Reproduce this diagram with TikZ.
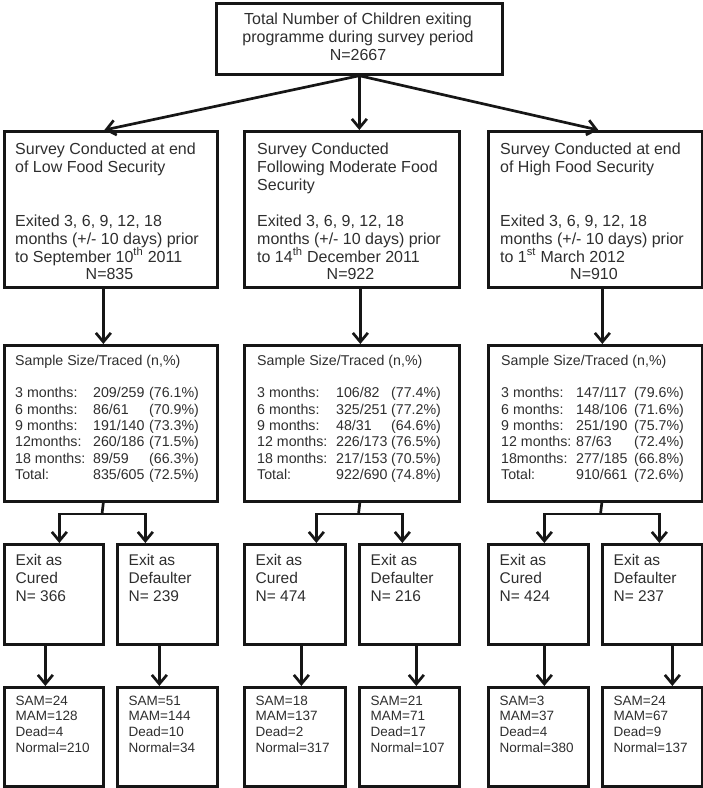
\documentclass[tikz,border=0pt]{standalone}
\usepackage{fontspec}
\setmainfont{Liberation Sans}
\usetikzlibrary{arrows.meta,calc}
\definecolor{ink}{HTML}{161616}
\definecolor{txt}{HTML}{2E2E2E}
\begin{document}
\begin{tikzpicture}[x=1pt,y=-1pt,
  box/.style={draw=ink,line width=2.7pt,inner sep=0pt,anchor=north west},
  conn/.style={draw=ink,line width=2.7pt},
  arr/.style={conn,-{Straight Barb[length=9pt,width=15pt]}},
  ttxt/.style={inner sep=0pt,text=txt,font=\fontsize{16}{18}\selectfont},
  mtxt/.style={inner sep=0pt,text=txt,font=\fontsize{14.2}{16.3}\selectfont,align=left,anchor=north west},
  etxt/.style={inner sep=0pt,text=txt,font=\fontsize{15.5}{18}\selectfont,align=left,anchor=north west},
  stxt/.style={inner sep=0pt,text=txt,font=\fontsize{13.5}{15.7}\selectfont,align=left,anchor=north west},
]
\useasboundingbox (0,0) rectangle (703,788);
\newcommand{\rowA}[3]{\makebox[78pt][l]{#1}\makebox[56pt][l]{#2}#3}
\newcommand{\rowB}[3]{\makebox[79pt][l]{#1}\makebox[55pt][l]{#2}#3}
\newcommand{\rowC}[3]{\makebox[75pt][l]{#1}\makebox[58pt][l]{#2}#3}

% boxes
\node[box,minimum width=286pt,minimum height=71pt] (top) at (215,2) {};
\node[box,minimum width=213pt,minimum height=156pt] (l2a) at (3,130) {};
\node[box,minimum width=215pt,minimum height=156pt] (l2b) at (243,130) {};
\node[box,minimum width=214pt,minimum height=156pt] (l2c) at (487,130) {};
\node[box,minimum width=213pt,minimum height=156pt] (l3a) at (3,344) {};
\node[box,minimum width=215pt,minimum height=156pt] (l3b) at (243,344) {};
\node[box,minimum width=214pt,minimum height=156pt] (l3c) at (487,344) {};
\node[box,minimum width=99pt,minimum height=100pt] (l4a) at (3,543) {};
\node[box,minimum width=100pt,minimum height=100pt] (l4b) at (116,543) {};
\node[box,minimum width=101pt,minimum height=100pt] (l4c) at (243,543) {};
\node[box,minimum width=100pt,minimum height=100pt] (l4d) at (358,543) {};
\node[box,minimum width=100pt,minimum height=100pt] (l4e) at (487,543) {};
\node[box,minimum width=100pt,minimum height=100pt] (l4f) at (601,543) {};
\node[box,minimum width=99pt,minimum height=99pt] (l5a) at (3,686) {};
\node[box,minimum width=100pt,minimum height=99pt] (l5b) at (116,686) {};
\node[box,minimum width=101pt,minimum height=99pt] (l5c) at (243,686) {};
\node[box,minimum width=100pt,minimum height=99pt] (l5d) at (358,686) {};
\node[box,minimum width=100pt,minimum height=99pt] (l5e) at (487,686) {};
\node[box,minimum width=100pt,minimum height=99pt] (l5f) at (601,686) {};

% texts
\node[ttxt,align=center,anchor=north] (ttop) at (358,11.2) {\strut Total Number of Children exiting\\programme during survey period\\N=2667};

\node[ttxt,align=left,anchor=north west] (t2a) at (15,141.2) {\strut Survey Conducted at end\\of Low Food Security\\[36pt]Exited 3, 6, 9, 12, 18\\months (+/- 10 days) prior\\to September 10\textsuperscript{th} 2011};
\node[ttxt] (n2a) at (109.5,274) {N=835};
\node[ttxt,align=left,anchor=north west] (t2b) at (257,141.2) {\strut Survey Conducted\\Following Moderate Food\\Security\\[18pt]Exited 3, 6, 9, 12, 18\\months (+/- 10 days) prior\\to 14\textsuperscript{th} December 2011};
\node[ttxt] (n2b) at (350.5,274) {N=922};
\node[ttxt,align=left,anchor=north west] (t2c) at (500,141.2) {\strut Survey Conducted at end\\of High Food Security\\[36pt]Exited 3, 6, 9, 12, 18\\months (+/- 10 days) prior\\to 1\textsuperscript{st} March 2012};
\node[ttxt] (n2c) at (594,274) {N=910};

\node[mtxt] (t3a) at (15,353.7) {\strut Sample Size/Traced (n,\%)\\[16.3pt]
\rowA{3 months:}{209/259}{(76.1\%)}\\
\rowA{6 months:}{86/61}{(70.9\%)}\\
\rowA{9 months:}{191/140}{(73.3\%)}\\
\rowA{12months:}{260/186}{(71.5\%)}\\
\rowA{18 months:}{89/59}{(66.3\%)}\\
\rowA{Total:}{835/605}{(72.5\%)}};
\node[mtxt] (t3b) at (257,353.7) {\strut Sample Size/Traced (n,\%)\\[16.3pt]
\rowB{3 months:}{106/82}{(77.4\%)}\\
\rowB{6 months:}{325/251}{(77.2\%)}\\
\rowB{9 months:}{48/31}{(64.6\%)}\\
\rowB{12 months:}{226/173}{(76.5\%)}\\
\rowB{18 months:}{217/153}{(70.5\%)}\\
\rowB{Total:}{922/690}{(74.8\%)}};
\node[mtxt] (t3c) at (501,353.7) {\strut Sample Size/Traced (n,\%)\\[16.3pt]
\rowC{3 months:}{147/117}{(79.6\%)}\\
\rowC{6 months:}{148/106}{(71.6\%)}\\
\rowC{9 months:}{251/190}{(75.7\%)}\\
\rowC{12 months:}{87/63}{(72.4\%)}\\
\rowC{18months:}{277/185}{(66.8\%)}\\
\rowC{Total:}{910/661}{(72.6\%)}};

\node[etxt] (t4a) at (15.5,553) {\strut Exit as\\Cured\\N= 366};
\node[etxt] (t4b) at (128.5,553) {\strut Exit as\\Defaulter\\N= 239};
\node[etxt] (t4c) at (255.5,553) {\strut Exit as\\Cured\\N= 474};
\node[etxt] (t4d) at (370.5,553) {\strut Exit as\\Defaulter\\N= 216};
\node[etxt] (t4e) at (499.5,553) {\strut Exit as\\Cured\\N= 424};
\node[etxt] (t4f) at (613.5,553) {\strut Exit as\\Defaulter\\N= 237};

\node[stxt] (t5a) at (15.5,693.9) {\strut SAM=24\\MAM=128\\Dead=4\\Normal=210};
\node[stxt] (t5b) at (128.5,693.9) {\strut SAM=51\\MAM=144\\Dead=10\\Normal=34};
\node[stxt] (t5c) at (255.5,693.9) {\strut SAM=18\\MAM=137\\Dead=2\\Normal=317};
\node[stxt] (t5d) at (370.5,693.9) {\strut SAM=21\\MAM=71\\Dead=17\\Normal=107};
\node[stxt] (t5e) at (499.5,693.9) {\strut SAM=3\\MAM=37\\Dead=4\\Normal=380};
\node[stxt] (t5f) at (613.5,693.9) {\strut SAM=24\\MAM=67\\Dead=9\\Normal=137};

% connectors: top -> level 2
\draw[arr] (top.south) -- ([xshift=-6.5pt]l2a.north);
\draw[arr] (top.south) -- ([xshift=7.5pt]l2b.north);
\draw[arr] (top.south) -- ([xshift=3pt]l2c.north);
% level 2 -> level 3
\draw[arr] ([xshift=-7.5pt]l2a.south) -- ([xshift=-7.5pt]l3a.north);
\draw[arr] ([xshift=8.5pt]l2b.south) -- ([xshift=8.5pt]l3b.north);
\draw[arr] ([xshift=7pt]l2c.south) -- ([xshift=7pt]l3c.north);
% level 3 -> level 4 forks
\coordinate (fa) at (102,514);
\coordinate (fb) at (358.5,514);
\coordinate (fc) at (600.5,514);
\draw[conn] ([xshift=-7.5pt]l3a.south) -- (fa);
\draw[arr] (fa) -| ([xshift=5.5pt]l4a.north);
\draw[arr] (fa) -| ([xshift=-22pt]l4b.north);
\draw[conn] ([xshift=8pt]l3b.south) -- (fb);
\draw[arr] (fb) -| ([xshift=21.5pt]l4c.north);
\draw[arr] (fb) -| ([xshift=-7pt]l4d.north);
\draw[conn] ([xshift=6.5pt]l3c.south) -- (fc);
\draw[arr] (fc) -| ([xshift=6pt]l4e.north);
\draw[arr] (fc) -| ([xshift=7pt]l4f.north);
% level 4 -> level 5
\draw[arr] ([xshift=-8.5pt]l4a.south) -- ([xshift=-8.5pt]l5a.north);
\draw[arr] ([xshift=-8pt]l4b.south) -- ([xshift=-8pt]l5b.north);
\draw[arr] ([xshift=6.5pt]l4c.south) -- ([xshift=6.5pt]l5c.north);
\draw[arr] ([xshift=7pt]l4d.south) -- ([xshift=7pt]l5d.north);
\draw[arr] ([xshift=6pt]l4e.south) -- ([xshift=6pt]l5e.north);
\draw[arr] ([xshift=20pt]l4f.south) -- ([xshift=20pt]l5f.north);
\end{tikzpicture}
\end{document}
